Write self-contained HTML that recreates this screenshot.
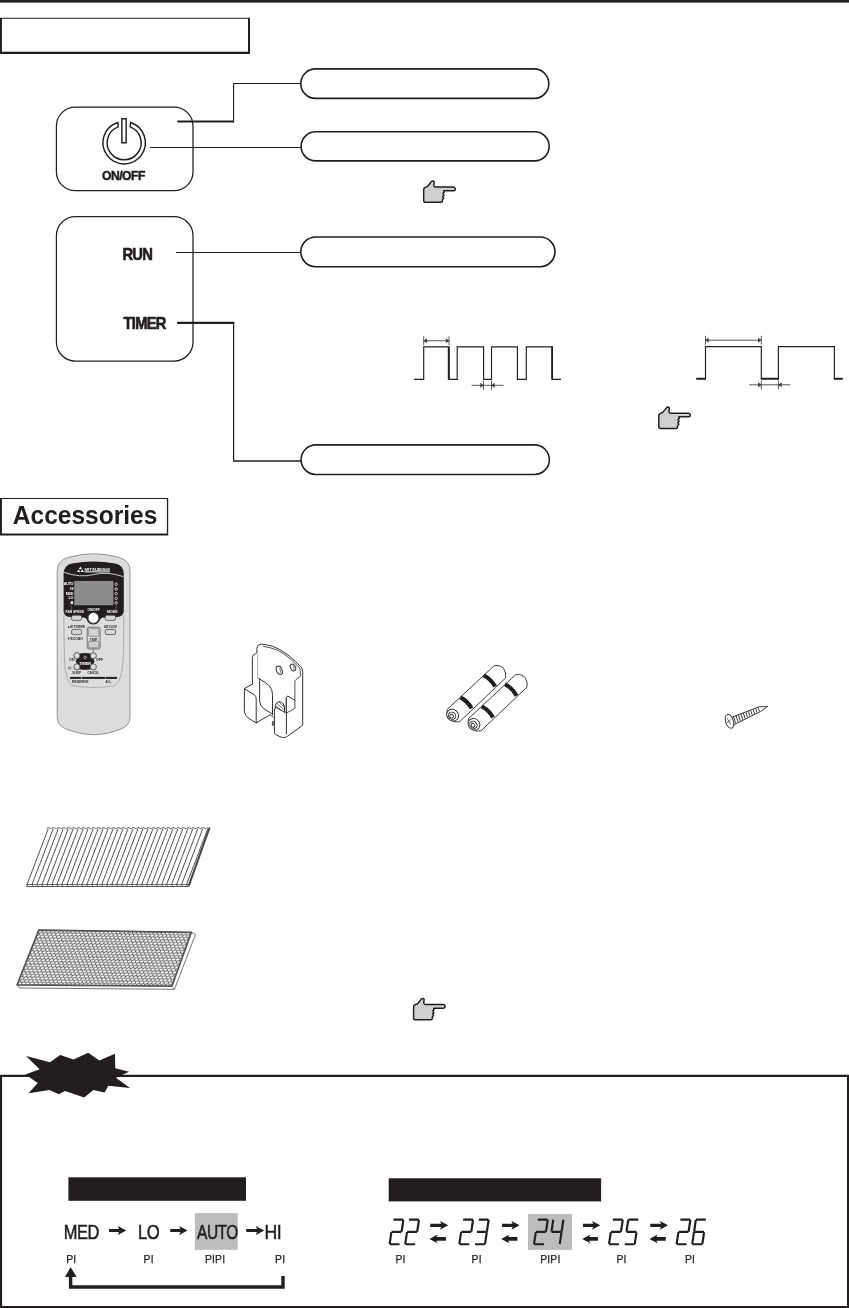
<!DOCTYPE html>
<html><head><meta charset="utf-8"><title>Indicator / Accessories</title>
<style>
html,body{margin:0;padding:0;background:#fff;}
body{width:849px;height:1308px;overflow:hidden;font-family:"Liberation Sans",sans-serif;}
svg{display:block;position:absolute;left:0;top:0;will-change:transform;}
svg text{font-family:"Liberation Sans",sans-serif;}
</style></head>
<body>
<svg width="849" height="1308" viewBox="0 0 849 1308">
<rect width="849" height="1308" fill="#fff"/>
<rect x="0" y="0" width="849" height="2.6" fill="#221e1f"/>
<path d="M0,17.7 H250 V53.9 H0 Z M1.9,18.8 V51.8 H248.0 V18.8 Z" fill="#221e1f" fill-rule="evenodd"/>
<g fill="none" stroke="#221e1f"><path d="M177.3,121.6 H233.6" stroke-width="2"/><path d="M233.6,122.6 V83.5 H301" stroke-width="1.1"/><path d="M150.2,147.4 H301" stroke-width="1.05"/><path d="M176,252.4 H301" stroke-width="1.05"/><path d="M177.1,322.9 H234.2" stroke-width="2.1"/><path d="M233.6,322 V461" stroke-width="1.2"/><path d="M233,461 H301" stroke-width="1.7"/></g>
<rect x="300.80" y="68.90" width="248.00" height="29.50" rx="14.75" fill="#fff" stroke="#221e1f" stroke-width="1.6"/>
<rect x="301.10" y="131.80" width="248.10" height="29.10" rx="14.55" fill="#fff" stroke="#221e1f" stroke-width="1.6"/>
<rect x="300.80" y="237.00" width="254.20" height="29.70" rx="14.85" fill="#fff" stroke="#221e1f" stroke-width="1.6"/>
<rect x="301.10" y="444.90" width="248.20" height="29.60" rx="14.80" fill="#fff" stroke="#221e1f" stroke-width="1.6"/>
<rect x="56.4" y="107.1" width="136.6" height="83.6" rx="19" fill="none" stroke="#221e1f" stroke-width="1.25"/>
<rect x="56.4" y="216.7" width="136.6" height="144.4" rx="19" fill="none" stroke="#221e1f" stroke-width="1.25"/>
<path d="M130.52,122.53 A21.2,21.2 0 1 1 117.78,122.53 L118.15,126.84 A17.0,17.0 0 1 0 130.15,126.84 Z" fill="none" stroke="#221e1f" stroke-width="1.45" stroke-linejoin="miter"/>
<rect x="121.9" y="118.75" width="4.25" height="24.05" fill="none" stroke="#221e1f" stroke-width="1.45"/>
<text transform="translate(102.0,179.5) scale(0.94,1)" font-size="12.9" font-weight="bold" letter-spacing="-0.5" text-anchor="start" fill="#221e1f"  stroke="#221e1f" stroke-width="0.5" stroke-linejoin="round">ON/OFF</text>
<text transform="translate(122.4,260.2) scale(0.9,1)" font-size="16.4" font-weight="bold" letter-spacing="-0.85" text-anchor="start" fill="#221e1f"  stroke="#221e1f" stroke-width="0.6" stroke-linejoin="round">RUN</text>
<text transform="translate(123.6,328.8) scale(0.9,1)" font-size="16.4" font-weight="bold" letter-spacing="-0.85" text-anchor="start" fill="#221e1f"  stroke="#221e1f" stroke-width="0.6" stroke-linejoin="round">TIMER</text>
<g transform="translate(422.90,180.30) scale(0.07067) translate(-183,-75)"><path d="M325,85 Q347,88 342,112 L338,150 Q340,171 362,171 L615,171 Q641,173 641,197 Q641,222 615,223 L478,223 L486,241 L466,262 L482,284 L464,304 L478,326 L460,346 L460,368 Q457,387 440,387 L220,387 Q194,387 194,364 L194,205 Q194,182 215,176 L250,160 L305,92 Q313,84 325,85 Z" fill="#d0d0d0" stroke="#221e1f" stroke-width="21" stroke-linejoin="round"/></g>
<g transform="translate(658.00,406.40) scale(0.07067) translate(-183,-75)"><path d="M325,85 Q347,88 342,112 L338,150 Q340,171 362,171 L615,171 Q641,173 641,197 Q641,222 615,223 L478,223 L486,241 L466,262 L482,284 L464,304 L478,326 L460,346 L460,368 Q457,387 440,387 L220,387 Q194,387 194,364 L194,205 Q194,182 215,176 L250,160 L305,92 Q313,84 325,85 Z" fill="#d0d0d0" stroke="#221e1f" stroke-width="21" stroke-linejoin="round"/></g>
<g transform="translate(412.80,997.70) scale(0.07067) translate(-183,-75)"><path d="M325,85 Q347,88 342,112 L338,150 Q340,171 362,171 L615,171 Q641,173 641,197 Q641,222 615,223 L478,223 L486,241 L466,262 L482,284 L464,304 L478,326 L460,346 L460,368 Q457,387 440,387 L220,387 Q194,387 194,364 L194,205 Q194,182 215,176 L250,160 L305,92 Q313,84 325,85 Z" fill="#d0d0d0" stroke="#221e1f" stroke-width="21" stroke-linejoin="round"/></g>
<path d="M414.0,379.4 H423.7 V346.8 H449.0 V379.4 H457.2 V346.8 H483.6 V379.4 H491.5 V346.8 H517.4 V379.4 H526.3 V346.8 H552.3 V379.4 H560.9" fill="none" stroke="#221e1f" stroke-width="1.15" stroke-linejoin="miter"/>
<path d="M448.7,346.8 V379.4 M552.0999999999999,346.8 V379.4" fill="none" stroke="#221e1f" stroke-width="1.8"/>
<g fill="#3a3a3a" stroke="#3a3a3a" stroke-width="0.85"><path d="M423.7,336.3 V345.09999999999997 M449.0,336.3 V345.09999999999997"/><path d="M423.7,340.7 H449.0"/><path d="M426.9,338.7 L424.09999999999997,340.7 L426.9,342.7 M445.8,338.7 L448.6,340.7 L445.8,342.7"/></g>
<g fill="#3a3a3a" stroke="#3a3a3a" stroke-width="0.85"><path d="M483.6,380.90000000000003 V389.7 M491.5,380.90000000000003 V389.7"/><path d="M471.6,385.3 H503.5"/><path d="M480.40000000000003,383.3 L483.20000000000005,385.3 L480.40000000000003,387.3 M494.7,383.3 L491.9,385.3 L494.7,387.3"/></g>
<path d="M705.5,378.7 V346.6 H761.3 V378.7 M778.4,378.7 V346.6 H834.4 V378.7" fill="none" stroke="#221e1f" stroke-width="1.15"/>
<path d="M696.2,378.7 H706.05 M760.75,378.7 H778.9499999999999 M833.85,378.7 H842.8" fill="none" stroke="#221e1f" stroke-width="1.9"/>
<g fill="#3a3a3a" stroke="#3a3a3a" stroke-width="0.85"><path d="M705.5,335.8 V344.59999999999997 M761.3,335.8 V344.59999999999997"/><path d="M705.5,340.2 H761.3"/><path d="M708.7,338.2 L705.9,340.2 L708.7,342.2 M758.0999999999999,338.2 L760.9,340.2 L758.0999999999999,342.2"/></g>
<g fill="#3a3a3a" stroke="#3a3a3a" stroke-width="0.85"><path d="M761.3,380.40000000000003 V389.2 M778.4,380.40000000000003 V389.2"/><path d="M749.3,384.8 H790.4"/><path d="M758.0999999999999,382.8 L760.9,384.8 L758.0999999999999,386.8 M781.6,382.8 L778.8,384.8 L781.6,386.8"/></g>
<path d="M0,498.0 H168.2 V535.6 H0 Z M1.9,499.1 V533.5 H166.89999999999998 V499.1 Z" fill="#221e1f" fill-rule="evenodd"/>
<text transform="translate(12.8,523.7) scale(0.982,1)" font-size="25.0" font-weight="bold" letter-spacing="0" text-anchor="start" fill="#221e1f" >Accessories</text>
<g id="remote">
<path d="M57.2,571 Q56.9,561 68.2,557.4 Q81,553.8 93.5,553.8 Q106,553.8 119,557.4 Q130.4,561 130,571 L130,717 Q130.4,726 119,729.9 Q106,734.8 93.5,734.8 Q81,734.8 68.2,729.9 Q56.9,726 57.2,717 Z" fill="#dcdcdc" stroke="#8a8a8a" stroke-width="0.9"/>
<path d="M63.8,615 L64.4,657 Q65,680 72,685.5 Q93.5,689.5 115,685.5 Q122.5,680 123.3,657 L123.8,615" fill="#dedede" stroke="#8a8a8a" stroke-width="0.6"/>
<path d="M63.6,574 Q63.6,565 72,563.4 Q93.5,559.6 115,563.4 Q123.8,565 123.8,574 L123.8,611 Q123.8,616.5 117,617 L104,617.6 Q100,618 99.5,621 Q97,624.6 93.4,624.6 Q89.5,624.6 87.3,621 Q86.6,618 83,617.6 L70,617 Q63.6,616.5 63.6,611 Z" fill="#221e1f"/>
<path d="M64.2,572.4 Q80,578 93.5,574.6 Q107,571.2 123.4,576.6" fill="none" stroke="#f4f4f4" stroke-width="0.8"/>
<path d="M80.4,566.6 l1.6,2.6 l-3.2,0 Z M78.6,569.4 l1.7,2.7 l-3.4,0 Z M82.2,569.4 l1.7,2.7 l-3.4,0 Z" fill="#fff"/>
<text x="84.4" y="570.6" font-size="3.4" font-weight="bold" fill="#fff" textLength="25.4" lengthAdjust="spacingAndGlyphs">MITSUBISHI</text>
<rect x="84.4" y="571.3" width="25.4" height="1.1" fill="#e8e8e8"/>
<rect x="74.2" y="581" width="39.2" height="24.2" fill="#8c8c8c"/>
<text x="73.3" y="585.2" font-size="3.7" font-weight="bold" fill="#fff" text-anchor="end" letter-spacing="-0.2">AUTO</text>
<text x="73.3" y="589.9" font-size="3.7" font-weight="bold" fill="#fff" text-anchor="end" letter-spacing="-0.2">HI</text>
<text x="73.3" y="594.6" font-size="3.7" font-weight="bold" fill="#fff" text-anchor="end" letter-spacing="-0.2">MED</text>
<text x="73.3" y="599.3" font-size="3.7" font-weight="bold" fill="#fff" text-anchor="end" letter-spacing="-0.2">LO</text>
<rect x="70.6" y="601.2" width="2.4" height="3" fill="#eee"/>
<path d="M71.3,606 V610" stroke="#ddd" stroke-width="0.6" stroke-dasharray="0.8,0.8"/>
<circle cx="116.2" cy="584.3" r="1.25" fill="none" stroke="#eee" stroke-width="0.75"/>
<circle cx="116.2" cy="589" r="1.25" fill="none" stroke="#eee" stroke-width="0.75"/>
<circle cx="116.2" cy="593.6" r="1.25" fill="none" stroke="#eee" stroke-width="0.75"/>
<circle cx="116.2" cy="598.4" r="1.25" fill="none" stroke="#eee" stroke-width="0.75"/>
<circle cx="116.2" cy="602.8" r="1.25" fill="none" stroke="#eee" stroke-width="0.75"/>
<path d="M116.2,605.4 V610" stroke="#ddd" stroke-width="0.6" stroke-dasharray="0.8,0.8"/>
<text x="65.6" y="613.4" font-size="4.3" font-weight="bold" fill="#fff" textLength="18.4" lengthAdjust="spacingAndGlyphs">FAN SPEED</text>
<text x="87.4" y="611.2" font-size="4.3" font-weight="bold" fill="#fff" textLength="12.4" lengthAdjust="spacingAndGlyphs">ON/OFF</text>
<text x="107" y="613.4" font-size="4.3" font-weight="bold" fill="#fff" textLength="10.6" lengthAdjust="spacingAndGlyphs">MODE</text>
<rect x="71.6" y="615.2" width="10" height="5.2" rx="1.6" fill="#d6d6d6" stroke="#3a3a3a" stroke-width="0.7"/>
<rect x="105.2" y="615.2" width="10.4" height="5.2" rx="1.6" fill="#d6d6d6" stroke="#3a3a3a" stroke-width="0.7"/>
<circle cx="93.4" cy="617.9" r="5.3" fill="#fdfdfd" stroke="#444" stroke-width="0.7"/>
<text x="67.2" y="627.8" font-size="3.9" font-weight="bold" fill="#221e1f" textLength="17.8" lengthAdjust="spacingAndGlyphs">&#9650;HI POWER</text>
<text x="104" y="627.8" font-size="3.9" font-weight="bold" fill="#221e1f" textLength="12.8" lengthAdjust="spacingAndGlyphs">AIR FLOW</text>
<rect x="71.6" y="629.4" width="10" height="5.2" rx="1.6" fill="#d6d6d6" stroke="#3a3a3a" stroke-width="0.7"/>
<rect x="105.2" y="629.4" width="10.4" height="5.2" rx="1.6" fill="#d6d6d6" stroke="#3a3a3a" stroke-width="0.7"/>
<text x="67" y="639.6" font-size="3.9" font-weight="bold" fill="#221e1f" textLength="16" lengthAdjust="spacingAndGlyphs">&#9660;ECONO</text>
<rect x="87.2" y="627.2" width="12.9" height="21.7" rx="1.6" fill="#d9d9d9" stroke="#555" stroke-width="0.8"/>
<rect x="88.4" y="628.3" width="10.5" height="8" rx="1" fill="#cfcfcf" stroke="#666" stroke-width="0.6"/>
<rect x="88.4" y="641.4" width="10.5" height="6.5" rx="1" fill="#cfcfcf" stroke="#666" stroke-width="0.6"/>
<path d="M89.4,629.2 L97.9,635.4 M97.9,629.2 L89.4,635.4" stroke="#e6e6e6" stroke-width="0.7"/>
<text x="90" y="640.6" font-size="3.9" font-weight="bold" fill="#221e1f" textLength="7.4" lengthAdjust="spacingAndGlyphs">TEMP</text>
<path d="M93.3,649 V652.5" stroke="#444" stroke-width="0.6"/>
<path d="M79.6,653.4 Q85,652.4 90.6,653.4 L94.6,661.3 L90.6,669.2 Q85,670.2 79.6,669.2 L75.7,661.3 Z" fill="#221e1f"/>
<circle cx="76.9" cy="655.7" r="3.1" fill="#d9d9d9" stroke="#333" stroke-width="0.75"/>
<circle cx="93.3" cy="655.7" r="3.1" fill="#d9d9d9" stroke="#333" stroke-width="0.75"/>
<circle cx="76.9" cy="666.9" r="3.1" fill="#d9d9d9" stroke="#333" stroke-width="0.75"/>
<circle cx="93.3" cy="666.9" r="3.1" fill="#d9d9d9" stroke="#333" stroke-width="0.75"/>
<circle cx="85.1" cy="657.4" r="1.3" fill="none" stroke="#eee" stroke-width="0.6"/>
<text x="85.1" y="664.6" font-size="4.1" font-weight="bold" fill="#fff" text-anchor="middle" letter-spacing="-0.2">TIMER</text>
<text x="69.1" y="661.2" font-size="3.6" font-weight="bold" fill="#221e1f">ON</text>
<text x="96" y="661.2" font-size="3.6" font-weight="bold" fill="#221e1f">OFF</text>
<ellipse cx="69.8" cy="668" rx="1.5" ry="1.1" fill="none" stroke="#444" stroke-width="0.6"/>
<text x="72.3" y="673.9" font-size="3.9" font-weight="bold" fill="#221e1f" textLength="8.8" lengthAdjust="spacingAndGlyphs">SLEEP</text>
<text x="87.4" y="673.9" font-size="3.9" font-weight="bold" fill="#221e1f" textLength="11.8" lengthAdjust="spacingAndGlyphs">CANCEL</text>
<rect x="70" y="676.9" width="47.1" height="2" fill="#221e1f"/>
<circle cx="81.5" cy="677.9" r="0.55" fill="#eee"/><circle cx="105.4" cy="677.9" r="0.55" fill="#eee"/>
<text x="72.1" y="682.8" font-size="3.9" font-weight="bold" fill="#221e1f" textLength="16.4" lengthAdjust="spacingAndGlyphs">RESERVE</text>
<text x="105.4" y="682.8" font-size="3.9" font-weight="bold" fill="#221e1f" textLength="5.8" lengthAdjust="spacingAndGlyphs">ACL</text>
</g>
<g id="holder" fill="none" stroke="#333" stroke-width="1.0" stroke-linejoin="round" stroke-linecap="round">
<path d="M252.4,684 L252.4,657.3 Q252.5,654.6 255.3,653.9 L256.9,652.9 L256.9,648.2 Q257.2,644.2 261.4,644.1 Q267,644.6 272.7,646.3 Q279,648.6 285,652.9 Q290.5,656.6 295.3,661.4 L300.6,666.6 Q302.6,668.6 302.7,671.4 L302.7,725.2 L286.4,737 Q283.5,738 281,737.2 L275.8,734.6 Q274.4,733.8 274.4,732 L274.4,709.6"/>
<path d="M263.3,646.3 Q270.5,647.4 277.4,650.1 Q285,654 291.6,660 L298.8,667.2 Q300.3,668.8 300.3,671 L300.3,676.5 L296.2,679.4 Q294.9,680.4 294.9,682 L294.9,708.3 L286.4,713" stroke-width="0.85"/>
<path d="M257.6,654.4 L257.6,678.2" stroke="#9a9a9a" stroke-width="0.8"/>
<path d="M252.4,684 L244.4,688.6 L244.4,711.6 Q244.6,715.6 249.1,718.6 L256.2,722.9 L269.9,714.9"/>
<path d="M244.8,689 L254.6,695 Q256.2,696.4 256.2,698.9 L256.2,722.9"/>
<path d="M258.7,678.4 L266.1,683.1 Q270.6,686 271.6,689.6 Q272.4,692 272.5,695.4 L272.5,714.9"/>
<path d="M259.6,679.2 L259.6,701 Q259.9,705.6 263.3,708.3 L272.2,713.9"/>
<path d="M270,714.9 L274.2,717.8" stroke-width="0.8"/>
<path d="M274.4,709.6 Q274.6,707.6 276.6,707.8 L285.9,713 L286.4,713 L286.4,733.8"/>
<path d="M286.4,713 L286.4,697.4 Q286.6,696 287.9,696.2 L294.9,700.3"/>
<path d="M285.3,698 L285.3,712.4" stroke="#9a9a9a" stroke-width="0.7"/>
<ellipse cx="279.3" cy="670.3" rx="2.8" ry="4.4" transform="rotate(-24 279.3 670.3)"/>
<path d="M279.6,668 Q281.6,670 280.4,672.6" stroke-width="0.7"/>
<ellipse cx="293" cy="667.5" rx="2.5" ry="3.6" transform="rotate(-24 293 667.5)"/>
<path d="M293.3,665.6 Q295,667.4 294,669.6" stroke-width="0.7"/>
<path d="M275.4,708 Q274.4,703.4 278.4,701.8 Q282.6,701.4 284.4,706 L284.6,711.6"/>
<path d="M277.2,703.6 L283.6,709.4 M279.4,702.4 L284.4,707.4 M276,705.6 L281.4,710.4" stroke-width="0.7"/>
<ellipse cx="273.2" cy="723.4" rx="0.9" ry="2.4"/>
</g>
<g transform="translate(0,0)" fill="#fff" stroke="#333" stroke-width="0.95" stroke-linejoin="round"><path d="M447.2,709.4 L494.2,665.7 Q500,664.6 503.6,668.4 Q506.6,672.6 505.6,678 L459.6,721.7 Q452,723 448.6,718 Q445.6,713.6 447.2,709.4 Z"/><path d="M483.6,675.2 Q491,679 495.2,686.6" fill="none" stroke="#221e1f" stroke-width="4.1"/><path d="M460.4,697.4 Q467.6,701 471.6,708.4" fill="none" stroke="#221e1f" stroke-width="4.1"/><ellipse cx="452.6" cy="715.2" rx="6.2" ry="5.6" transform="rotate(40 452.6 715.2)"/><ellipse cx="452" cy="715.8" rx="3.9" ry="3.4" transform="rotate(40 452 715.8)"/><ellipse cx="451.6" cy="716.2" rx="2" ry="1.7" transform="rotate(40 451.6 716.2)"/></g>
<g transform="translate(21.4,9.1)" fill="#fff" stroke="#333" stroke-width="0.95" stroke-linejoin="round"><path d="M447.2,709.4 L494.2,665.7 Q500,664.6 503.6,668.4 Q506.6,672.6 505.6,678 L459.6,721.7 Q452,723 448.6,718 Q445.6,713.6 447.2,709.4 Z"/><path d="M483.6,675.2 Q491,679 495.2,686.6" fill="none" stroke="#221e1f" stroke-width="4.1"/><path d="M460.4,697.4 Q467.6,701 471.6,708.4" fill="none" stroke="#221e1f" stroke-width="4.1"/><ellipse cx="452.6" cy="715.2" rx="6.2" ry="5.6" transform="rotate(40 452.6 715.2)"/><ellipse cx="452" cy="715.8" rx="3.9" ry="3.4" transform="rotate(40 452 715.8)"/><ellipse cx="451.6" cy="716.2" rx="2" ry="1.7" transform="rotate(40 451.6 716.2)"/></g>
<g id="screw" fill="#fff" stroke="#333" stroke-width="0.95" stroke-linejoin="round">
<path d="M731,717.6 L759,706.8 L767.6,706.5 L760.6,711.4 L733.8,724.8 Z"/>
<path d="M733.5,716.6 L735.7,723.4 M736.0,715.7 L738.1,722.2 M738.4,714.7 L740.4,721.0 M740.9,713.8 L742.8,719.8 M743.3,712.9 L745.2,718.6 M745.8,712.0 L747.6,717.5 M748.2,711.0 L749.9,716.3 M750.6,710.1 L752.3,715.1 M753.1,709.2 L754.7,713.9 M755.5,708.2 L757.0,712.7 M758.0,707.3 L759.4,711.5" fill="none" stroke-width="0.9"/>
<ellipse cx="729.5" cy="721.4" rx="3.9" ry="7.1" transform="rotate(-18 729.5 721.4)"/>
<path d="M727,718 L730.8,724.6 M726.6,723.2 L731.4,719.4" fill="none" stroke-width="0.7"/>
</g>
<g id="filter1" fill="none" stroke="#333" stroke-width="0.85">
<path d="M48.30,828.60 L27.00,884.60 M53.28,828.60 L31.98,884.60 M58.27,828.60 L36.97,884.60 M63.25,828.60 L41.95,884.60 M68.24,828.60 L46.94,884.60 M73.22,828.60 L51.92,884.60 M78.21,828.60 L56.91,884.60 M83.19,828.60 L61.89,884.60 M88.18,828.60 L66.88,884.60 M93.16,828.60 L71.86,884.60 M98.15,828.60 L76.85,884.60 M103.13,828.60 L81.83,884.60 M108.12,828.60 L86.82,884.60 M113.10,828.60 L91.80,884.60 M118.08,828.60 L96.78,884.60 M123.07,828.60 L101.77,884.60 M128.05,828.60 L106.75,884.60 M133.04,828.60 L111.74,884.60 M138.02,828.60 L116.72,884.60 M143.01,828.60 L121.71,884.60 M147.99,828.60 L126.69,884.60 M152.98,828.60 L131.68,884.60 M157.96,828.60 L136.66,884.60 M162.95,828.60 L141.65,884.60 M167.93,828.60 L146.63,884.60 M172.92,828.60 L151.62,884.60 M177.90,828.60 L156.60,884.60 M182.88,828.60 L161.58,884.60 M187.87,828.60 L166.57,884.60 M192.85,828.60 L171.55,884.60 M197.84,828.60 L176.54,884.60 M202.82,828.60 L181.52,884.60 M207.81,828.60 L186.51,884.60"/>
<path d="M46.50,828.80 L48.30,827.30 L51.48,828.80 M51.48,828.80 L53.28,827.30 L56.47,828.80 M56.47,828.80 L58.27,827.30 L61.45,828.80 M61.45,828.80 L63.25,827.30 L66.44,828.80 M66.44,828.80 L68.24,827.30 L71.42,828.80 M71.42,828.80 L73.22,827.30 L76.41,828.80 M76.41,828.80 L78.21,827.30 L81.39,828.80 M81.39,828.80 L83.19,827.30 L86.38,828.80 M86.38,828.80 L88.18,827.30 L91.36,828.80 M91.36,828.80 L93.16,827.30 L96.35,828.80 M96.35,828.80 L98.15,827.30 L101.33,828.80 M101.33,828.80 L103.13,827.30 L106.32,828.80 M106.32,828.80 L108.12,827.30 L111.30,828.80 M111.30,828.80 L113.10,827.30 L116.28,828.80 M116.28,828.80 L118.08,827.30 L121.27,828.80 M121.27,828.80 L123.07,827.30 L126.25,828.80 M126.25,828.80 L128.05,827.30 L131.24,828.80 M131.24,828.80 L133.04,827.30 L136.22,828.80 M136.22,828.80 L138.02,827.30 L141.21,828.80 M141.21,828.80 L143.01,827.30 L146.19,828.80 M146.19,828.80 L147.99,827.30 L151.18,828.80 M151.18,828.80 L152.98,827.30 L156.16,828.80 M156.16,828.80 L157.96,827.30 L161.15,828.80 M161.15,828.80 L162.95,827.30 L166.13,828.80 M166.13,828.80 L167.93,827.30 L171.12,828.80 M171.12,828.80 L172.92,827.30 L176.10,828.80 M176.10,828.80 L177.90,827.30 L181.08,828.80 M181.08,828.80 L182.88,827.30 L186.07,828.80 M186.07,828.80 L187.87,827.30 L191.05,828.80 M191.05,828.80 L192.85,827.30 L196.04,828.80 M196.04,828.80 L197.84,827.30 L201.02,828.80 M201.02,828.80 L202.82,827.30 L206.01,828.80 M206.01,828.80 L207.81,827.30" stroke-width="0.7"/>
<path d="M27.00,884.60 L28.00,886.50 M31.98,884.60 L32.98,886.50 M36.97,884.60 L37.97,886.50 M41.95,884.60 L42.95,886.50 M46.94,884.60 L47.94,886.50 M51.92,884.60 L52.92,886.50 M56.91,884.60 L57.91,886.50 M61.89,884.60 L62.89,886.50 M66.88,884.60 L67.88,886.50 M71.86,884.60 L72.86,886.50 M76.85,884.60 L77.85,886.50 M81.83,884.60 L82.83,886.50 M86.82,884.60 L87.82,886.50 M91.80,884.60 L92.80,886.50 M96.78,884.60 L97.78,886.50 M101.77,884.60 L102.77,886.50 M106.75,884.60 L107.75,886.50 M111.74,884.60 L112.74,886.50 M116.72,884.60 L117.72,886.50 M121.71,884.60 L122.71,886.50 M126.69,884.60 L127.69,886.50 M131.68,884.60 L132.68,886.50 M136.66,884.60 L137.66,886.50 M141.65,884.60 L142.65,886.50 M146.63,884.60 L147.63,886.50 M151.62,884.60 L152.62,886.50 M156.60,884.60 L157.60,886.50 M161.58,884.60 L162.58,886.50 M166.57,884.60 L167.57,886.50 M171.55,884.60 L172.55,886.50 M176.54,884.60 L177.54,886.50 M181.52,884.60 L182.52,886.50 M186.51,884.60 L187.51,886.50" stroke-width="0.6"/>
<path d="M26.0,884.6 H188 M26.2,886.5 H188.4" stroke-width="0.8"/>
<path d="M209.6,827.5 L188.6,886.2" stroke-width="2" stroke="#444"/>
</g>
<defs><pattern id="hex" width="4.1" height="5.2" patternUnits="userSpaceOnUse" patternTransform="matrix(1,0.0144,-0.397,1,38.8,930.1)"><rect width="4.1" height="5.2" fill="#5e5e5e"/><ellipse cx="2.05" cy="1.3" rx="1.72" ry="1.06" fill="#fff"/><ellipse cx="0" cy="3.9" rx="1.72" ry="1.06" fill="#fff"/><ellipse cx="4.1" cy="3.9" rx="1.72" ry="1.06" fill="#fff"/></pattern></defs>
<g id="filter2" stroke-linejoin="round">
<path d="M38.8,930.1 L191.4,932.3 L195.5,934.3 L174.5,989.3 L19.7,988 L17.1,984.8 Z" fill="#fff" stroke="#666" stroke-width="0.9"/>
<path d="M38.8,930.1 L191.4,932.3 L171.9,986.1 L17.1,984.8 Z" fill="url(#hex)" stroke="#555" stroke-width="1.7"/>
<path d="M171.9,986.1 L174.5,989.3" stroke="#666" stroke-width="0.8"/>
</g>
<path d="M0,1074.8 H849 V1308 H0 Z M2.1,1076.9 V1305.9 H847 V1076.9 Z" fill="#221e1f" fill-rule="evenodd"/>
<polygon points="26.0,1056.0 49.9,1062.2 60.3,1055.1 73.5,1059.4 88.2,1052.8 99.3,1060.4 115,1053.8 115.3,1068.3 129.1,1071.7 115.9,1077.7 130,1088.1 108.4,1085.8 104.6,1092.4 93.3,1089.9 84.2,1097.5 65,1090.9 58.8,1094.3 49.4,1089.9 28.6,1093.3 37.7,1083 25.4,1074.5 39.6,1069.2" fill="#221e1f"/>
<rect x="68.4" y="1177.3" width="177.6" height="23.5" fill="#221e1f"/>
<rect x="388.7" y="1178.3" width="212.4" height="23.1" fill="#221e1f"/>
<rect x="194.9" y="1213.1" width="42.8" height="36.7" fill="#bcbcbc"/>
<rect x="528" y="1214" width="44" height="35.9" fill="#bcbcbc"/>
<text transform="translate(63.7,1239.3) scale(0.79,1)" font-size="20.8" font-weight="normal" letter-spacing="-0.5" text-anchor="start" fill="#221e1f" stroke="#221e1f" stroke-width="0.55">MED</text>
<text transform="translate(137.9,1239.3) scale(0.8,1)" font-size="20.8" font-weight="normal" letter-spacing="-0.5" text-anchor="start" fill="#221e1f" stroke="#221e1f" stroke-width="0.55">LO</text>
<text transform="translate(197.0,1239.3) scale(0.745,1)" font-size="20.8" font-weight="normal" letter-spacing="-0.6" text-anchor="start" fill="#221e1f" stroke="#221e1f" stroke-width="0.55">AUTO</text>
<text transform="translate(264.4,1239.3) scale(0.85,1)" font-size="20.8" font-weight="normal" letter-spacing="-0.4" text-anchor="start" fill="#221e1f" stroke="#221e1f" stroke-width="0.55">HI</text>
<path d="M109.1,1228.9 H119.0 L117.8,1225.9 L126.2,1230.4 L117.8,1234.9 L119.0,1231.9 H109.1 Z" fill="#221e1f"/>
<path d="M170.2,1228.9 H180.39999999999998 L179.2,1225.9 L187.6,1230.4 L179.2,1234.9 L180.39999999999998,1231.9 H170.2 Z" fill="#221e1f"/>
<path d="M246.2,1228.9 H257.0 L255.79999999999998,1225.9 L264.2,1230.4 L255.79999999999998,1234.9 L257.0,1231.9 H246.2 Z" fill="#221e1f"/>
<text transform="translate(66.2,1262.9) scale(1,1)" font-size="10.4" font-weight="normal" letter-spacing="0.15" text-anchor="start" fill="#221e1f" stroke="#221e1f" stroke-width="0.25">PI</text>
<text transform="translate(143.6,1262.9) scale(1,1)" font-size="10.4" font-weight="normal" letter-spacing="0.15" text-anchor="start" fill="#221e1f" stroke="#221e1f" stroke-width="0.25">PI</text>
<text transform="translate(205.0,1262.9) scale(1,1)" font-size="10.4" font-weight="normal" letter-spacing="0.15" text-anchor="start" fill="#221e1f" stroke="#221e1f" stroke-width="0.25">PIPI</text>
<text transform="translate(275.1,1262.9) scale(1,1)" font-size="10.4" font-weight="normal" letter-spacing="0.15" text-anchor="start" fill="#221e1f" stroke="#221e1f" stroke-width="0.25">PI</text>
<path d="M283,1276 V1287 H70.6 V1275" fill="none" stroke="#221e1f" stroke-width="3.4" stroke-linejoin="miter"/>
<path d="M70.7,1267.2 L76.6,1276.9 H64.9 Z" fill="#221e1f"/>
<path d="M393.44,1219.60 L403.24,1219.60 M403.37,1219.75 L401.57,1231.75 M391.60,1231.90 L401.40,1231.90 M391.42,1232.05 L389.62,1244.05 M389.75,1244.20 L399.55,1244.20" fill="none" stroke="#221e1f" stroke-width="2.15" stroke-linecap="butt"/>
<path d="M409.04,1219.60 L418.84,1219.60 M418.97,1219.75 L417.17,1231.75 M407.20,1231.90 L417.00,1231.90 M407.02,1232.05 L405.22,1244.05 M405.35,1244.20 L415.15,1244.20" fill="none" stroke="#221e1f" stroke-width="2.15" stroke-linecap="butt"/>
<path d="M463.14,1219.60 L472.94,1219.60 M473.07,1219.75 L471.27,1231.75 M461.30,1231.90 L471.10,1231.90 M461.12,1232.05 L459.32,1244.05 M459.45,1244.20 L469.25,1244.20" fill="none" stroke="#221e1f" stroke-width="2.15" stroke-linecap="butt"/>
<path d="M478.74,1219.60 L488.54,1219.60 M488.67,1219.75 L486.87,1231.75 M476.90,1231.90 L486.70,1231.90 M486.82,1232.05 L485.02,1244.05 M475.05,1244.20 L484.85,1244.20" fill="none" stroke="#221e1f" stroke-width="2.15" stroke-linecap="butt"/>
<path d="M537.84,1219.60 L547.64,1219.60 M547.77,1219.75 L545.97,1231.75 M536.00,1231.90 L545.80,1231.90 M535.82,1232.05 L534.02,1244.05 M534.15,1244.20 L543.95,1244.20" fill="none" stroke="#221e1f" stroke-width="2.15" stroke-linecap="butt"/>
<path d="M553.27,1219.75 L551.47,1231.75 M551.60,1231.90 L561.40,1231.90 M563.37,1219.75 L561.57,1231.75 M561.52,1232.05 L559.72,1244.05" fill="none" stroke="#221e1f" stroke-width="2.15" stroke-linecap="butt"/>
<path d="M612.84,1219.60 L622.64,1219.60 M622.77,1219.75 L620.97,1231.75 M611.00,1231.90 L620.80,1231.90 M610.82,1232.05 L609.02,1244.05 M609.15,1244.20 L618.95,1244.20" fill="none" stroke="#221e1f" stroke-width="2.15" stroke-linecap="butt"/>
<path d="M628.44,1219.60 L638.24,1219.60 M628.27,1219.75 L626.47,1231.75 M626.60,1231.90 L636.40,1231.90 M636.52,1232.05 L634.72,1244.05 M624.75,1244.20 L634.55,1244.20" fill="none" stroke="#221e1f" stroke-width="2.15" stroke-linecap="butt"/>
<path d="M680.44,1219.60 L690.24,1219.60 M690.37,1219.75 L688.57,1231.75 M678.60,1231.90 L688.40,1231.90 M678.42,1232.05 L676.62,1244.05 M676.75,1244.20 L686.55,1244.20" fill="none" stroke="#221e1f" stroke-width="2.15" stroke-linecap="butt"/>
<path d="M696.04,1219.60 L705.84,1219.60 M695.87,1219.75 L694.07,1231.75 M694.20,1231.90 L704.00,1231.90 M694.02,1232.05 L692.22,1244.05 M692.35,1244.20 L702.15,1244.20 M704.12,1232.05 L702.32,1244.05" fill="none" stroke="#221e1f" stroke-width="2.15" stroke-linecap="butt"/>
<path d="M430.2,1223.7 H441.2 L440.0,1220.8999999999999 L448.2,1225.3 L440.0,1229.7 L441.2,1226.8999999999999 H430.2 Z" fill="#221e1f"/>
<path d="M446.0,1237.1000000000001 H436.4 L437.59999999999997,1234.5 L429.4,1238.9 L437.59999999999997,1243.3000000000002 L436.4,1240.7 H446.0 Z" fill="#221e1f"/>
<path d="M502.0,1223.7 H512.6 L511.40000000000003,1220.8999999999999 L519.6,1225.3 L511.40000000000003,1229.7 L512.6,1226.8999999999999 H502.0 Z" fill="#221e1f"/>
<path d="M517.4,1237.1000000000001 H508.2 L509.4,1234.5 L501.2,1238.9 L509.4,1243.3000000000002 L508.2,1240.7 H517.4 Z" fill="#221e1f"/>
<path d="M583.0,1223.7 H593.2 L592.0,1220.8999999999999 L600.2,1225.3 L592.0,1229.7 L593.2,1226.8999999999999 H583.0 Z" fill="#221e1f"/>
<path d="M598.0,1237.1000000000001 H589.2 L590.4000000000001,1234.5 L582.2,1238.9 L590.4000000000001,1243.3000000000002 L589.2,1240.7 H598.0 Z" fill="#221e1f"/>
<path d="M650.1999999999999,1223.7 H661.0 L659.8,1220.8999999999999 L668.0,1225.3 L659.8,1229.7 L661.0,1226.8999999999999 H650.1999999999999 Z" fill="#221e1f"/>
<path d="M665.8,1237.1000000000001 H656.4 L657.6,1234.5 L649.4,1238.9 L657.6,1243.3000000000002 L656.4,1240.7 H665.8 Z" fill="#221e1f"/>
<text transform="translate(395.4,1262.9) scale(1,1)" font-size="10.4" font-weight="normal" letter-spacing="0.15" text-anchor="start" fill="#221e1f" stroke="#221e1f" stroke-width="0.25">PI</text>
<text transform="translate(471.6,1262.9) scale(1,1)" font-size="10.4" font-weight="normal" letter-spacing="0.15" text-anchor="start" fill="#221e1f" stroke="#221e1f" stroke-width="0.25">PI</text>
<text transform="translate(540.2,1262.9) scale(1,1)" font-size="10.4" font-weight="normal" letter-spacing="0.15" text-anchor="start" fill="#221e1f" stroke="#221e1f" stroke-width="0.25">PIPI</text>
<text transform="translate(616.5,1262.9) scale(1,1)" font-size="10.4" font-weight="normal" letter-spacing="0.15" text-anchor="start" fill="#221e1f" stroke="#221e1f" stroke-width="0.25">PI</text>
<text transform="translate(685.0,1262.9) scale(1,1)" font-size="10.4" font-weight="normal" letter-spacing="0.15" text-anchor="start" fill="#221e1f" stroke="#221e1f" stroke-width="0.25">PI</text>
</svg>
</body></html>
